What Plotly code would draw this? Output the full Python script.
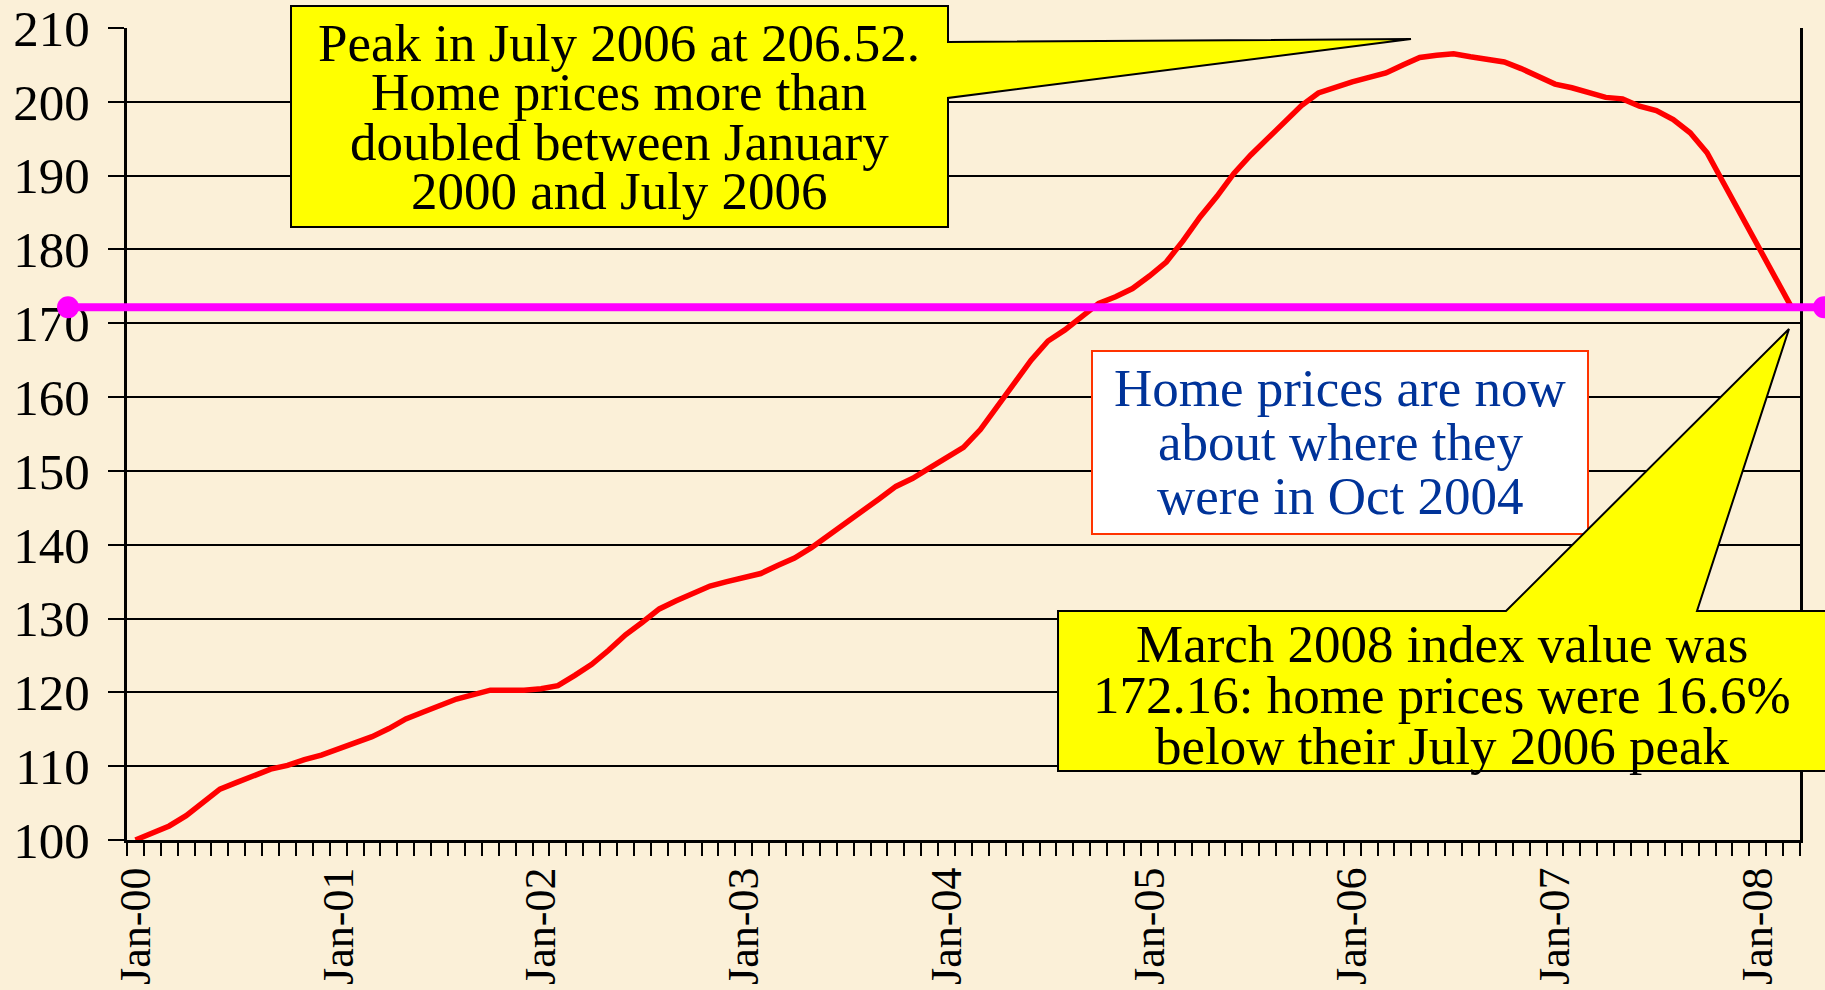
import plotly.graph_objects as go

# ---------------- data ----------------
VALUES = [
    100.0, 100.9, 101.9, 103.3, 105.1, 106.9, 107.8, 108.7, 109.6, 110.1, 110.9, 111.5,   # 2000
    112.4, 113.2, 114.0, 115.1, 116.4, 117.3, 118.2, 119.1, 119.7, 120.3, 120.3, 120.3,   # 2001
    120.5, 120.9, 122.3, 123.8, 125.7, 127.8, 129.5, 131.3, 132.4, 133.5, 134.4, 135.0,   # 2002
    135.5, 136.1, 137.2, 138.2, 139.6, 141.2, 143.0, 144.5, 146.2, 147.9, 149.0, 150.4,   # 2003
    151.7, 153.2, 155.6, 158.7, 162.1, 165.0, 167.6, 169.1, 170.9, 172.7, 173.6, 174.7,   # 2004
    176.4, 178.3, 181.2, 184.4, 187.2, 190.3, 192.8, 195.0, 197.4, 199.5, 201.2, 202.0,   # 2005
    202.7, 203.3, 203.9, 205.0, 206.0, 206.3, 206.52, 206.1, 205.7, 205.4, 204.5, 203.5,  # 2006
    202.4, 201.9, 201.3, 200.6, 200.4, 199.4, 198.8, 197.6, 195.8, 193.1, 188.9, 184.7,   # 2007
    180.5, 176.3, 172.16,                                                                # 2008
]
MONTHS = list(range(len(VALUES)))
TICK_LABELS = ["Jan-00", "Jan-01", "Jan-02", "Jan-03", "Jan-04",
               "Jan-05", "Jan-06", "Jan-07", "Jan-08"]
TICK_POS = [12 * k for k in range(len(TICK_LABELS))]
Y_TICKS = list(range(100, 211, 10))
CURRENT_VALUE = VALUES[-1]

BOX1_LINES = ["Peak in July 2006 at 206.52.", "Home prices more than",
              "doubled between January", "2000 and July 2006"]
BOX2_LINES = ["Home prices are now", "about where they", "were in Oct 2004"]
BOX3_LINES = ["March 2008 index value was", "172.16: home prices were 16.6%",
              "below their July 2006 peak"]

# ---------------- layout geometry ----------------
W, H = 1825, 990
ML, MR, MT, MB = 127, 25, 28, 150
PW, PH = W - ML - MR, H - MT - MB
BG = "#FBF0D8"
SERIF = "Liberation Serif, Times New Roman, serif"


def px(x):
    return (x - ML) / PW


def py(y):
    return (H - MB - y) / PH


def path(points):
    return "M " + " L ".join(f"{px(x):.5f},{py(y):.5f}" for x, y in points) + " Z"


fig = go.Figure()
fig.add_trace(go.Scatter(
    x=MONTHS, y=VALUES, mode="lines",
    line=dict(color="#FF0000", width=5.5),
    hoverinfo="skip", showlegend=False,
))

shapes = []
# magenta reference line at current value
x_left, x_right = 68, 1824
shapes.append(dict(type="line", xref="paper", yref="y",
                   x0=px(x_left), x1=px(x_right), y0=CURRENT_VALUE, y1=CURRENT_VALUE,
                   line=dict(color="#FF00FF", width=8), layer="above"))
for xx in (x_left, x_right):
    shapes.append(dict(type="circle", xref="paper", yref="y",
                       xsizemode="pixel", ysizemode="pixel",
                       xanchor=px(xx), yanchor=CURRENT_VALUE,
                       x0=-11, x1=11, y0=-11, y1=11,
                       fillcolor="#FF00FF", line=dict(width=0), layer="above"))

# callout 1 (yellow, pointer to the right)
shapes.append(dict(type="path", xref="paper", yref="paper", layer="above",
                   path=path([(291, 6), (948, 6), (948, 42), (1411, 39), (948, 98),
                              (948, 227), (291, 227)]),
                   fillcolor="#FFFF00", line=dict(color="black", width=2)))
# box 2 (white, red border)
shapes.append(dict(type="rect", xref="paper", yref="paper", layer="above",
                   x0=px(1092), x1=px(1588), y0=py(351), y1=py(534),
                   fillcolor="white", line=dict(color="#FF3300", width=2)))
# callout 3 (yellow, pointer up)
shapes.append(dict(type="path", xref="paper", yref="paper", layer="above",
                   path=path([(1058, 611), (1506, 611), (1789, 329), (1697, 611),
                              (1826, 611), (1826, 771), (1058, 771)]),
                   fillcolor="#FFFF00", line=dict(color="black", width=2)))

annotations = []


def add_lines(lines, cx, cy, spacing, color):
    n = len(lines)
    for k, t in enumerate(lines):
        yc = cy + (k - (n - 1) / 2) * spacing
        annotations.append(dict(
            text=t, xref="paper", yref="paper", x=px(cx), y=py(yc),
            xanchor="center", yanchor="middle", showarrow=False,
            font=dict(family=SERIF, size=53, color=color)))


add_lines(BOX1_LINES, 619, 117, 49.5, "black")
add_lines(BOX2_LINES, 1340, 442, 54, "#003399")
add_lines(BOX3_LINES, 1442, 695, 51, "black")

fig.update_layout(
    width=W, height=H,
    margin=dict(l=ML, r=MR, t=MT, b=MB, pad=0, autoexpand=False),
    paper_bgcolor=BG, plot_bgcolor=BG,
    showlegend=False,
    shapes=shapes, annotations=annotations,
    font=dict(family=SERIF, color="black"),
    xaxis=dict(
        automargin=False,
        range=[-0.5, len(VALUES) - 0.5],
        tickmode="array", tickvals=TICK_POS, ticktext=TICK_LABELS,
        tickangle=-90, ticks="outside", ticklen=2, tickcolor="rgba(0,0,0,0)",
        ticklabelstandoff=5,
        tickfont=dict(family=SERIF, size=44, color="black"),
        showgrid=False, zeroline=False,
        showline=True, linecolor="black", linewidth=3,
        minor=dict(ticks="outside", tickmode="linear", tick0=-0.5, dtick=1,
                   ticklen=13, tickwidth=2, tickcolor="black", showgrid=False),
    ),
    yaxis=dict(
        automargin=False,
        range=[100, 210], tickmode="array", tickvals=Y_TICKS,
        ticks="outside", ticklen=16, tickwidth=2, tickcolor="black",
        ticklabelstandoff=8,
        tickfont=dict(family=SERIF, size=51, color="black"),
        showgrid=True, gridcolor="black", gridwidth=2.2, zeroline=False,
        showline=True, linecolor="black", linewidth=3, mirror=True,
    ),
)

fig.write_html(
    "out.html",
    config={"displayModeBar": False},
    post_script="document.body.style.margin='0';document.body.style.overflow='hidden';",
)
